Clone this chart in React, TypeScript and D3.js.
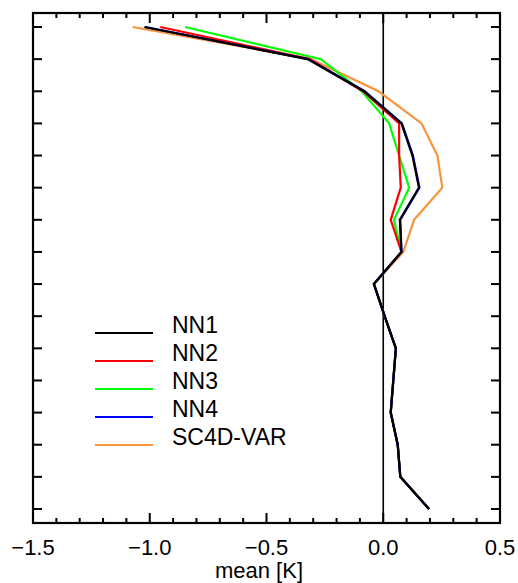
import React from "react";
import * as d3 from "d3";

// levels, top (0) to bottom (15)
const levels = d3.range(16);

// lower levels are shared by all runs
const lower = [0.078, -0.04, 0.006, 0.054, 0.043, 0.032, 0.062, 0.073, 0.196];

const nn1 = [-1.023, -0.324, -0.082, 0.078, 0.125, 0.153, 0.071, ...lower];
const nn2 = [-0.955, -0.315, -0.087, 0.068, 0.068, 0.075, 0.032, ...lower];
const nn3 = [-0.848, -0.267, -0.092, 0.025, 0.068, 0.111, 0.046, ...lower];
const nn4 = [-1.02, -0.322, -0.08, 0.08, 0.127, 0.155, 0.073, ...lower];
const sc4d = [-1.073, -0.31, -0.02, 0.164, 0.232, 0.253, 0.132, 0.086, ...lower.slice(1)];

const seriesNames = ["NN1", "NN2", "NN3", "NN4", "SC4D-VAR"];
const seriesColors = ["#000000", "#ff0000", "#00ff00", "#0000ff", "#f7943c"];
const seriesValues = [nn1, nn2, nn3, nn4, sc4d];
// drawing order: orange under, black on top
const drawOrder = [4, 2, 1, 3, 0];

const xMajor = [-1.5, -1.0, -0.5, 0.0, 0.5];
const xLabels = ["\u22121.5", "\u22121.0", "\u22120.5", "0.0", "0.5"];

const W = 518;
const H = 583;
const left = 33;
const right = 500;
const top = 13;
const bottom = 523;
const font = "'Liberation Sans', Arial, Helvetica, sans-serif";

export default function App() {
  const x = d3.scaleLinear().domain([-1.5, 0.5]).range([left, right]);
  const y = d3.scaleLinear().domain([-0.436, 15.436]).range([top, bottom]);

  const line = d3
    .line<number>()
    .x((d) => x(d))
    .y((_, i) => y(levels[i]));

  const minor = d3.range(-15, 6).map((v) => v / 10);

  return (
    <svg
      width={W}
      height={H}
      style={{ position: "absolute", left: 0, top: 0, background: "#fff" }}
      fontFamily={font}
    >
      {/* zero line */}
      <line x1={x(0)} x2={x(0)} y1={top} y2={bottom} stroke="#000" strokeWidth={1.6} />

      {/* series */}
      {drawOrder.map((k) => (
        <path
          key={seriesNames[k]}
          d={line(seriesValues[k]) || ""}
          fill="none"
          stroke={seriesColors[k]}
          strokeWidth={2.2}
          strokeLinejoin="miter"
        />
      ))}

      {/* x ticks top & bottom */}
      {minor.map((v) => {
        const major = xMajor.some((m) => Math.abs(m - v) < 1e-9);
        const len = major ? 10 : 5;
        return (
          <g key={"xt" + v}>
            <line x1={x(v)} x2={x(v)} y1={bottom} y2={bottom - len} stroke="#000" strokeWidth={2} />
            <line x1={x(v)} x2={x(v)} y1={top} y2={top + len} stroke="#000" strokeWidth={2} />
          </g>
        );
      })}

      {/* y ticks left & right */}
      {levels.map((l) => (
        <g key={"yt" + l}>
          <line x1={left} x2={left + 9} y1={y(l)} y2={y(l)} stroke="#000" strokeWidth={2} />
          <line x1={right} x2={right - 9} y1={y(l)} y2={y(l)} stroke="#000" strokeWidth={2} />
        </g>
      ))}

      {/* frame */}
      <rect
        x={left}
        y={top}
        width={right - left}
        height={bottom - top}
        fill="none"
        stroke="#000"
        strokeWidth={2.2}
      />

      {/* x labels */}
      {xMajor.map((v, i) => (
        <text key={"xl" + v} x={x(v)} y={555} textAnchor="middle" fontSize={22} fill="#000">
          {xLabels[i]}
        </text>
      ))}
      <text x={259} y={578} textAnchor="middle" fontSize={22} fill="#000">
        mean [K]
      </text>

      {/* legend */}
      {seriesNames.map((n, i) => (
        <g key={"lg" + n}>
          <line
            x1={95}
            x2={153}
            y1={333 + i * 28}
            y2={333 + i * 28}
            stroke={seriesColors[i]}
            strokeWidth={2.2}
          />
          <text x={172} y={333 + i * 28} fontSize={23} fill="#000">
            {n}
          </text>
        </g>
      ))}
    </svg>
  );
}
